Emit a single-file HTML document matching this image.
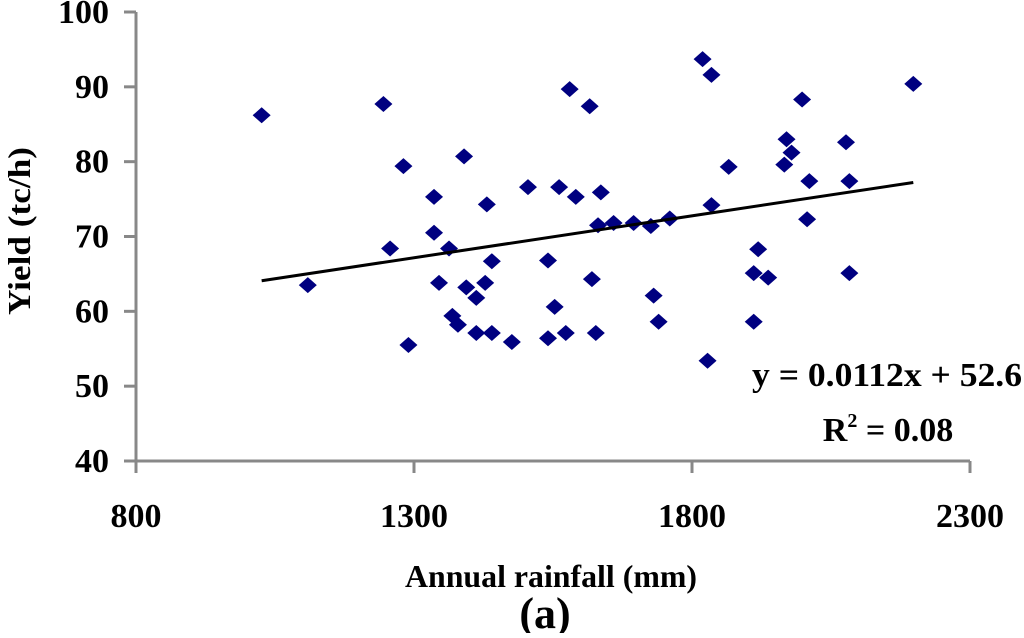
<!DOCTYPE html>
<html><head><meta charset="utf-8"><style>
html,body{margin:0;padding:0;background:#fff;}
svg text{font-family:"Liberation Serif",serif;font-weight:bold;fill:#000;}
</style></head><body>
<svg width="1024" height="633" viewBox="0 0 1024 633">
<g id="axes"></g><g id="marks"></g>
<text x="0" y="0" font-size="32" text-anchor="middle" textLength="168" lengthAdjust="spacingAndGlyphs" transform="translate(30 231) rotate(-90)">Yield (tc/h)</text>
<text x="551" y="587" font-size="32" text-anchor="middle" textLength="292" lengthAdjust="spacingAndGlyphs">Annual rainfall (mm)</text>
<text x="545" y="628" font-size="44" text-anchor="middle">(a)</text>
<text x="1022" y="386" font-size="34" text-anchor="end" textLength="270" lengthAdjust="spacingAndGlyphs">y = 0.0112x + 52.6</text>
<text x="888" y="441" font-size="34" text-anchor="middle">R<tspan font-size="20" dy="-14">2</tspan><tspan dy="14"> = 0.08</tspan></text>
</svg>
<script>
const xTicks=[800,1300,1800,2300];
const yTicks=[40,50,60,70,80,90,100];
const rain=[1026,1109,1245,1257,1281,1290,1336,1336,1345,1363,1369,1379,1390,1394,1412,1412,1428,1431,1440,1440,1476,1505,1541,1553,1541,1561,1580,1573,1591,1616,1620,1627,1636,1631,1659,1695,1726,1731,1740,1760,1819,1835,1835,1828,1866,1919,1911,1937,1911,1998,1966,1970,1979,2011,2007,2077,2083,2083,2198];
const yieldV=[86.2,63.5,87.7,68.4,79.4,55.5,75.3,70.5,63.8,68.4,59.4,58.2,80.7,63.2,61.8,57.1,63.8,74.3,66.7,57.1,55.9,76.6,66.8,60.6,56.4,76.6,89.7,57.1,75.3,87.4,64.3,57.1,75.9,71.5,71.8,71.8,71.4,62.1,58.6,72.4,93.7,91.6,74.2,53.4,79.3,68.3,65.1,64.5,58.6,88.3,79.6,83.0,81.2,77.4,72.3,82.6,77.4,65.1,90.4];
const slope=0.0112, intercept=52.6;
const sx=v=>136+(v-800)*(834/1500);
const sy=v=>461-(v-40)*(449/60);
const NS='http://www.w3.org/2000/svg';
function mk(t,a,p){const e=document.createElementNS(NS,t);for(const k in a)e.setAttribute(k,a[k]);p.appendChild(e);return e;}
const ax=document.getElementById('axes'), mg=document.getElementById('marks');
let l=mk('line',{x1:136,y1:sy(100),x2:136,y2:461,stroke:'#888','stroke-width':3},ax);


l=mk('line',{x1:136,y1:461,x2:sx(2300),y2:461,stroke:'#888','stroke-width':3},ax);


yTicks.forEach(v=>{
 const t=mk('line',{x1:124,y1:sy(v),x2:136,y2:sy(v),stroke:'#888','stroke-width':3},ax);
 
 
 const tx=mk('text',{x:109,y:sy(v)+11,'font-size':34,'text-anchor':'end'},ax);tx.textContent=v;
 
 
});
xTicks.forEach(v=>{
 const t=mk('line',{x1:sx(v),y1:461,x2:sx(v),y2:473,stroke:'#888','stroke-width':3},ax);
 
 
 const tx=mk('text',{x:sx(v),y:527,'font-size':34,'text-anchor':'middle'},ax);tx.textContent=v;
 
 
});
rain.forEach((r,i)=>{
 const cx=sx(r),cy=sy(yieldV[i]);
 const p=mk('polygon',{points:`${cx-9},${cy} ${cx},${cy-8} ${cx+9},${cy} ${cx},${cy+8}`,fill:'#000080'},mg);
 
 
});
const x0=Math.min(...rain),x1=Math.max(...rain);
const tl=mk('line',{x1:sx(x0),y1:sy(slope*x0+intercept),x2:sx(x1),y2:sy(slope*x1+intercept),stroke:'#000','stroke-width':3},mg);


</script>
</body></html>
